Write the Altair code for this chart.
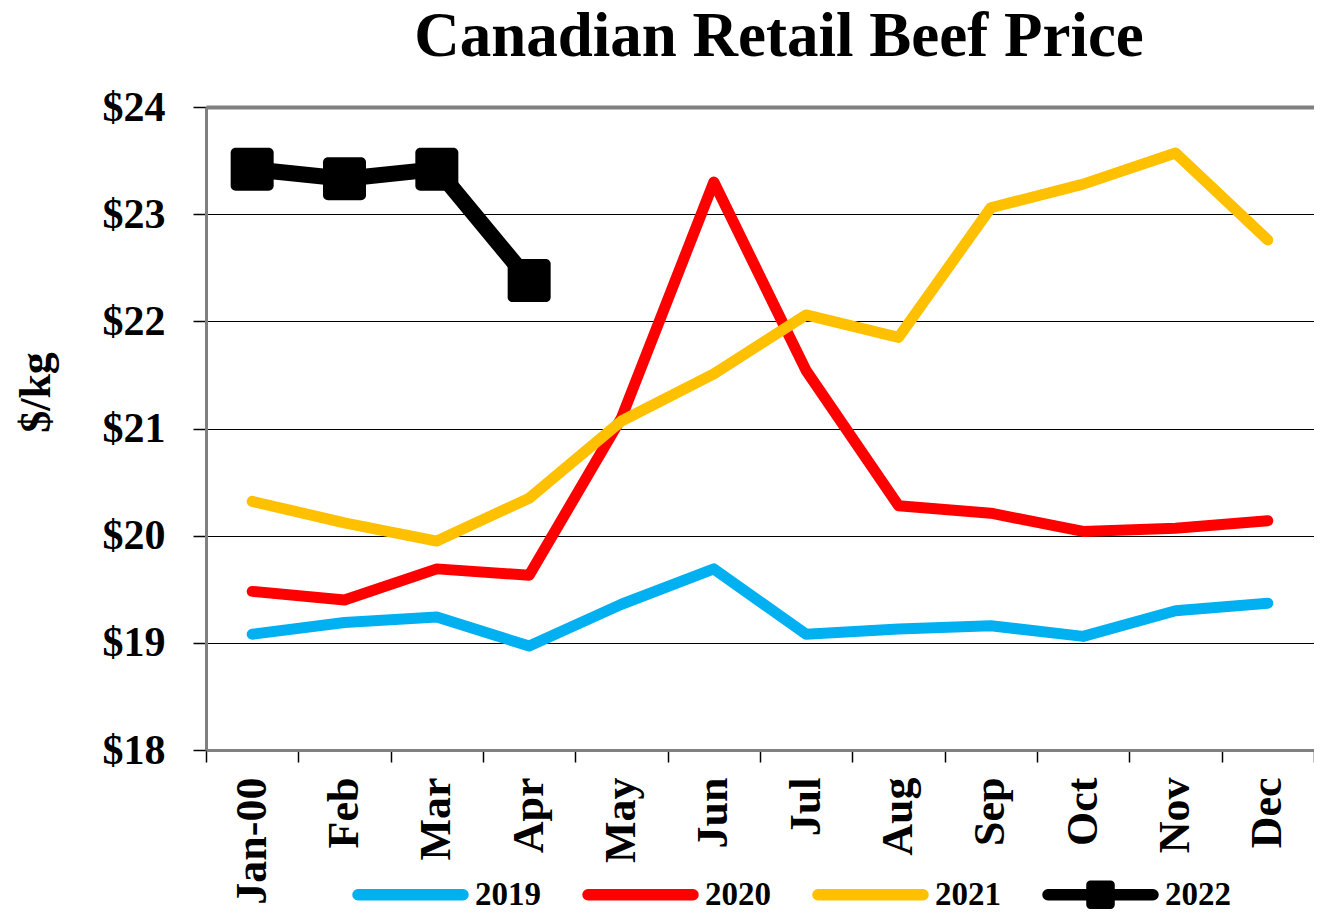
import altair as alt
import pandas as pd

months = ["Jan-00", "Feb", "Mar", "Apr", "May", "Jun", "Jul", "Aug", "Sep", "Oct", "Nov", "Dec"]
years = ["2019", "2020", "2021", "2022"]
colors = ["#00B0F0", "#FF0000", "#FFC000", "#000000"]

p2019 = [19.08, 19.19, 19.24, 18.97, 19.36, 19.69, 19.08, 19.13, 19.16, 19.06, 19.30, 19.37]
p2020 = [19.48, 19.40, 19.69, 19.63, 21.10, 23.30, 21.54, 20.28, 20.21, 20.04, 20.07, 20.14]
p2021 = [20.32, 20.12, 19.95, 20.35, 21.07, 21.51, 22.06, 21.85, 23.06, 23.28, 23.57, 22.76]
p2022 = [23.42, 23.33, 23.42, 22.38]

rows = []
for yr, vals in zip(years, [p2019, p2020, p2021, p2022]):
    for i, v in enumerate(vals):
        rows.append({"month": months[i], "idx": i, "year": yr, "price": v})
df = pd.DataFrame(rows)

FONT = "Liberation Serif"
GRAY = "#808080"

marker_path = ("M-0.77,-1H0.77A0.23,0.23 0 0 1 1,-0.77V0.77A0.23,0.23 0 0 1 0.77,1"
               "H-0.77A0.23,0.23 0 0 1 -1,0.77V-0.77A0.23,0.23 0 0 1 -0.77,-1Z")
leg_line = ("M-0.913,-0.087H0.913A0.087,0.087 0 0 1 0.913,0.087"
            "H-0.913A0.087,0.087 0 0 1 -0.913,-0.087Z")
leg_square = ("M-0.175,-0.235H0.175A0.06,0.06 0 0 1 0.235,-0.175V0.175A0.06,0.06 0 0 1 0.175,0.235"
              "H-0.175A0.06,0.06 0 0 1 -0.235,0.175V-0.175A0.06,0.06 0 0 1 -0.175,-0.235Z")
leg_paths = [leg_line, leg_line, leg_line, leg_line + leg_square]

xscale = alt.Scale(domain=months, paddingInner=0, paddingOuter=0)
yscale = alt.Scale(domain=[18, 24], nice=False, zero=False)
cscale = alt.Scale(domain=years, range=colors)
sscale = alt.Scale(domain=years, range=leg_paths)

x_axis = alt.Axis(
    title=None, labelAngle=270, labelFont=FONT, labelFontSize=44, labelFontWeight="bold",
    labelColor="black", labelPadding=15, tickBand="extent", ticks=True, tickSize=12,
    tickColor="black", tickWidth=1.5, domainColor=GRAY, domainWidth=3, grid=False,
    labelBaseline="middle", labelAlign="right",
)
y_axis = alt.Axis(
    title="$/kg", values=[18, 19, 20, 21, 22, 23, 24], labelExpr="'$' + datum.value",
    labelFont=FONT, labelFontSize=42, labelFontWeight="bold", labelColor="black",
    labelPadding=28, tickSize=13, tickColor="black", tickWidth=1.5,
    domainColor=GRAY, domainWidth=3, grid=True,
    gridColor=alt.condition("datum.value == 24", alt.value(GRAY), alt.value("black")),
    gridWidth=alt.condition("datum.value == 24", alt.value(4), alt.value(1)),
    titleFont=FONT, titleFontSize=44, titleFontWeight="bold", titleColor="black",
    titleAngle=270, titleX=-170, titleY=285, titleAlign="center", titleBaseline="middle",
)

leg = alt.Legend(
    title=None, orient="none", legendX=146, legendY=729, direction="horizontal",
    symbolSize=13225, labelFont=FONT, labelFontSize=33, labelFontWeight="bold",
    labelColor="black", labelOffset=6, columnPadding=39, symbolOpacity=1,
)

base = alt.Chart(df)

# legend-only layer first so its legend settings win when layers are merged
legend_layer = base.transform_filter("false").mark_point(
    filled=True, opacity=1
).encode(
    x=alt.X("month:N", scale=xscale, sort=months, axis=x_axis),
    y=alt.Y("price:Q", scale=yscale, axis=y_axis),
    color=alt.Color("year:N", scale=cscale, legend=leg),
    shape=alt.Shape("year:N", scale=sscale, legend=leg),
)

lines = base.transform_filter("datum.year != '2022'").mark_line(
    strokeWidth=11, strokeCap="round", strokeJoin="round"
).encode(
    x=alt.X("month:N", scale=xscale, sort=months, axis=x_axis),
    y=alt.Y("price:Q", scale=yscale, axis=y_axis),
    color=alt.Color("year:N", scale=cscale, legend=None),
    order="idx:Q",
)

line22 = base.transform_filter("datum.year == '2022'").mark_line(
    strokeWidth=16, strokeCap="round", strokeJoin="round"
).encode(
    x=alt.X("month:N", scale=xscale, sort=months),
    y=alt.Y("price:Q", scale=yscale),
    color=alt.Color("year:N", scale=cscale, legend=None),
    order="idx:Q",
)

markers = base.transform_filter("datum.year == '2022'").mark_point(
    filled=True, shape=marker_path, size=1849, opacity=1
).encode(
    x=alt.X("month:N", scale=xscale, sort=months),
    y=alt.Y("price:Q", scale=yscale),
    color=alt.Color("year:N", scale=cscale, legend=None),
)

chart = alt.layer(legend_layer, lines, line22, markers).properties(
    width=1108,
    height=643,
    title=alt.Title(
        "Canadian Retail Beef Price", font=FONT, fontSize=63, fontWeight="bold",
        color="black", anchor="middle", frame="group", offset=17, dx=19,
    ),
    autosize=alt.AutoSizeParams(type="none"),
    padding={"left": 198, "top": 99, "right": 0, "bottom": 163},
).configure_view(stroke=None).configure(font=FONT)

chart.save("out.html", embed_options={"renderer": "svg", "actions": False})
